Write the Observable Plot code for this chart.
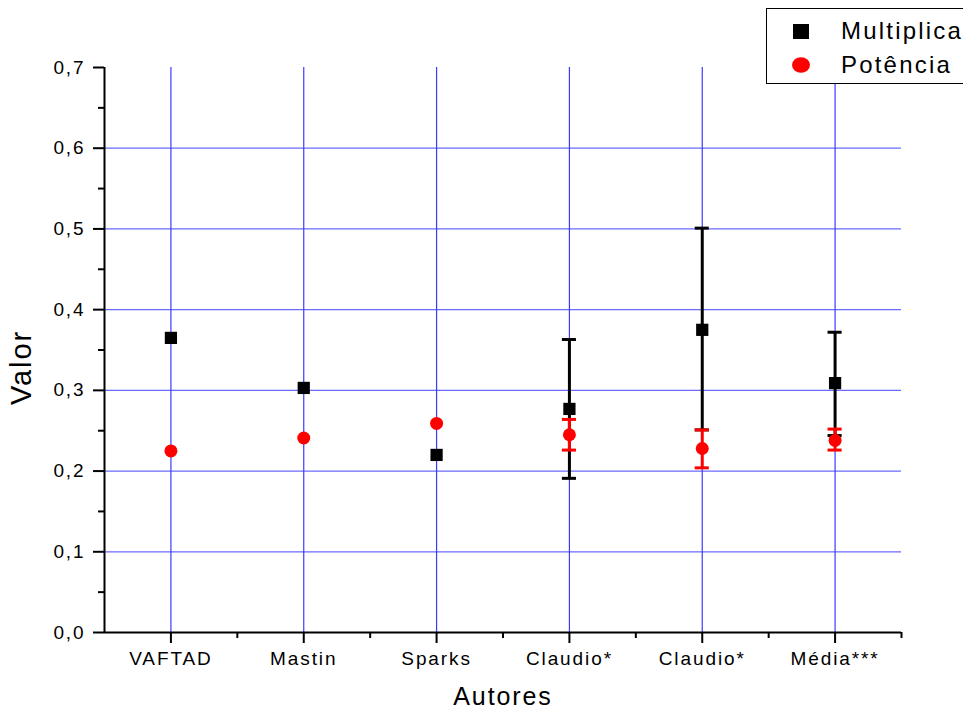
<!DOCTYPE html>
<html>
<head>
<meta charset="utf-8">
<script src="https://cdn.jsdelivr.net/npm/d3@7"></script>
<script src="https://cdn.jsdelivr.net/npm/@observablehq/plot@0.6"></script>
<style>
  html, body { margin: 0; padding: 0; background: white; overflow: hidden; }
  #wrap { position: relative; width: 963px; height: 713px; font-family: "Liberation Sans", Arial, sans-serif; }
  #legend { position: absolute; left: 766px; top: 8px; width: 220px; height: 76px; border: 1.3px solid black; background: white; box-sizing: border-box; }
  #legend .row { position: absolute; left: 0; height: 32px; display: flex; align-items: center; }
  #legend .sym { width: 68px; display: flex; justify-content: center; }
  #legend .lab { font-size: 24px; letter-spacing: 2.2px; color: black; padding-left: 6px; }
</style>
</head>
<body>
<div id="wrap">
  <div id="chart"></div>
  <div id="legend">
    <div class="row" style="top:6px"><div class="sym"><svg width="16" height="15"><rect x="0" y="0" width="16" height="15" fill="black"/></svg></div><div class="lab">Multiplica</div></div>
    <div class="row" style="top:40px"><div class="sym"><svg width="18" height="16"><ellipse cx="9" cy="8" rx="9" ry="7.8" fill="red"/></svg></div><div class="lab">Potência</div></div>
  </div>
</div>
<script>
const categories = ["VAFTAD", "Mastin", "Sparks", "Claudio*", "Claudio*", "Média***"];
const multiplica = [0.365, 0.303, 0.220, 0.277, 0.375, 0.309];
const multLow    = [null, null, null, 0.191, 0.251, 0.244];
const multHigh   = [null, null, null, 0.363, 0.501, 0.372];
const potencia   = [0.225, 0.241, 0.259, 0.245, 0.228, 0.238];
const potLow     = [null, null, null, 0.226, 0.204, 0.226];
const potHigh    = [null, null, null, 0.264, 0.251, 0.252];
const yTicks     = [0, 0.1, 0.2, 0.3, 0.4, 0.5, 0.6, 0.7];
const yMinor     = [0.05, 0.15, 0.25, 0.35, 0.45, 0.55, 0.65];
const yGrid      = [0.1, 0.2, 0.3, 0.4, 0.5, 0.6];

const rows = categories.map((c, i) => ({
  x: i + 1, cat: c,
  mult: multiplica[i], mLo: multLow[i], mHi: multHigh[i],
  pot: potencia[i], pLo: potLow[i], pHi: potHigh[i]
}));
const xTicks = rows.map(d => d.x);
const xMinor = rows.map(d => d.x + 0.5);
const mErr = rows.filter(d => d.mLo != null);
const pErr = rows.filter(d => d.pLo != null);
const capHalf = 0.053;
const fmt = d => d.toFixed(1).replace(".", ",");

const chart = Plot.plot({
  width: 963,
  height: 713,
  marginLeft: 104,
  marginRight: 62,
  marginTop: 67,
  marginBottom: 81,
  x: {domain: [0.5, 6.5]},
  y: {domain: [0, 0.7]},
  style: {fontFamily: "'Liberation Sans', Arial, sans-serif", background: "white", letterSpacing: "1.9px", color: "black"},
  marks: [
    Plot.ruleY(yGrid, {stroke: "#6a6aff", strokeWidth: 1.2}),
    Plot.ruleX(xTicks, {stroke: "#3b3bff", strokeWidth: 1.2}),
    Plot.axisY(yTicks, {tickSize: 11, tickPadding: 8, fontSize: 19, tickFormat: fmt, strokeWidth: 2, label: null}),
    Plot.axisY(yMinor, {tickSize: 6, tickFormat: () => "", strokeWidth: 2, label: null}),
    Plot.axisX(xTicks, {tickSize: 11, tickPadding: 8, fontSize: 19, tickFormat: d => categories[d - 1], strokeWidth: 2, label: null}),
    Plot.axisX(xMinor, {tickSize: 6, tickFormat: () => "", strokeWidth: 2, label: null}),
    Plot.ruleX([0.5], {stroke: "black", strokeWidth: 2}),
    Plot.ruleY([0], {stroke: "black", strokeWidth: 2}),
    Plot.text(["Valor"], {frameAnchor: "left", dx: -83, dy: 55, rotate: -90, fontSize: 29}),
    Plot.text(["Autores"], {frameAnchor: "bottom", dy: 72, fontSize: 25}),
    // Multiplica error bars
    Plot.ruleX(mErr, {x: "x", y1: "mLo", y2: "mHi", stroke: "black", strokeWidth: 3}),
    Plot.ruleY(mErr, {y: "mHi", x1: d => d.x - capHalf, x2: d => d.x + capHalf, stroke: "black", strokeWidth: 3}),
    Plot.ruleY(mErr, {y: "mLo", x1: d => d.x - capHalf, x2: d => d.x + capHalf, stroke: "black", strokeWidth: 3}),
    // Potência error bars
    Plot.ruleX(pErr, {x: "x", y1: "pLo", y2: "pHi", stroke: "red", strokeWidth: 3}),
    Plot.ruleY(pErr, {y: "pHi", x1: d => d.x - capHalf, x2: d => d.x + capHalf, stroke: "red", strokeWidth: 3}),
    Plot.ruleY(pErr, {y: "pLo", x1: d => d.x - capHalf, x2: d => d.x + capHalf, stroke: "red", strokeWidth: 3}),
    Plot.dot(rows, {x: "x", y: "pot", fill: "red", symbol: "circle", r: 6.5}),
    Plot.dot(rows, {x: "x", y: "mult", fill: "black", symbol: "square", r: 6.9})
  ]
});
document.getElementById("chart").appendChild(chart);
</script>
</body>
</html>
